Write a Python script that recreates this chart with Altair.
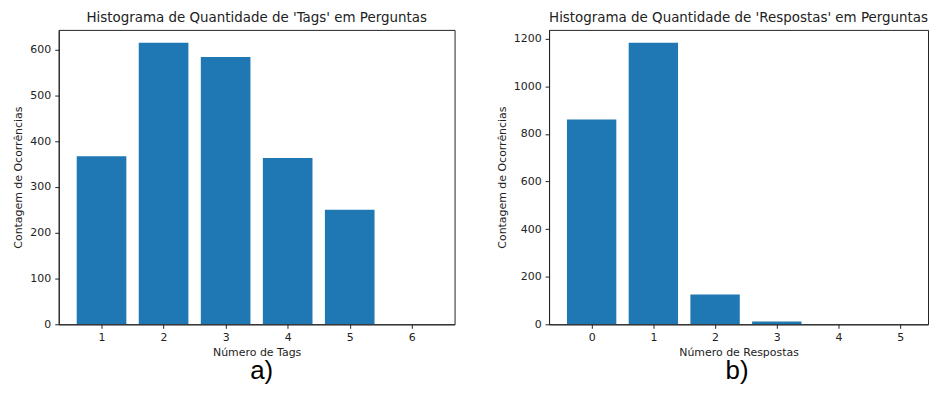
import altair as alt
import pandas as pd

# Left panel: number of tags per question
tags_n = [1, 2, 3, 4, 5, 6]
tags_count = [367, 615, 584, 363, 250, 0]

# Right panel: number of answers per question
resp_n = [0, 1, 2, 3, 4, 5]
resp_count = [861, 1183, 125, 12, 1, 0]

left_ticks = [0, 100, 200, 300, 400, 500, 600]
right_ticks = [0, 200, 400, 600, 800, 1000, 1200]

FONT = "DejaVu Sans"
BLUE = "#1f77b4"
INK = "#222222"


def axis(values, title, title_pad, label_pad):
    return alt.Axis(values=values, title=title, format="d", grid=False,
                    tickSize=4, labelPadding=label_pad,
                    titlePadding=title_pad, titleFont=FONT,
                    titleFontSize=11, titleFontWeight="normal",
                    titleColor=INK, labelFont=FONT, labelFontSize=11,
                    labelColor=INK, domainColor=INK, tickColor=INK)


def panel(ns, counts, xdom, ydom, yvals, width, title, xtitle, tag, tag_x):
    df = pd.DataFrame({"n": ns, "count": counts})
    bars = alt.Chart(df).transform_calculate(
        x0="datum.n - 0.4", x1="datum.n + 0.4"
    ).mark_bar(color=BLUE, clip=True).encode(
        x=alt.X("x0:Q", scale=alt.Scale(domain=xdom, nice=False, zero=False),
                axis=axis(ns, xtitle, 4, 3)),
        x2="x1:Q",
        y=alt.Y("count:Q", scale=alt.Scale(domain=ydom, nice=False),
                axis=axis(yvals, "Contagem de Ocorrências", 6, 4)),
        y2=alt.datum(0),
    )
    lab = alt.Chart(pd.DataFrame({"t": [tag]})).mark_text(
        font="Liberation Sans", fontSize=26, color="black",
        align="center", baseline="alphabetic"
    ).encode(text="t:N", x=alt.value(tag_x), y=alt.value(351))
    return alt.layer(bars, lab).properties(
        width=width, height=296,
        title=alt.TitleParams(title, font=FONT, fontSize=13.5,
                              fontWeight="normal", color=INK, offset=5),
    )


left = panel(tags_n, tags_count, [0.31, 6.69], [0, 643], left_ticks,
             398, "Histograma de Quantidade de 'Tags' em Perguntas",
             "Número de Tags", "a)", 204)
right = panel(resp_n, resp_count, [-0.69, 5.45], [0, 1237], right_ticks,
              381, "Histograma de Quantidade de 'Respostas' em Perguntas",
              "Número de Respostas", "b)", 189)

chart = alt.hconcat(left, right, spacing=40).properties(
    padding={"left": 4, "top": 2, "right": 0, "bottom": 0},
    background="white",
).configure_view(stroke=INK, strokeWidth=1)

chart.save("out.html", embed_options={"renderer": "svg", "actions": False})
